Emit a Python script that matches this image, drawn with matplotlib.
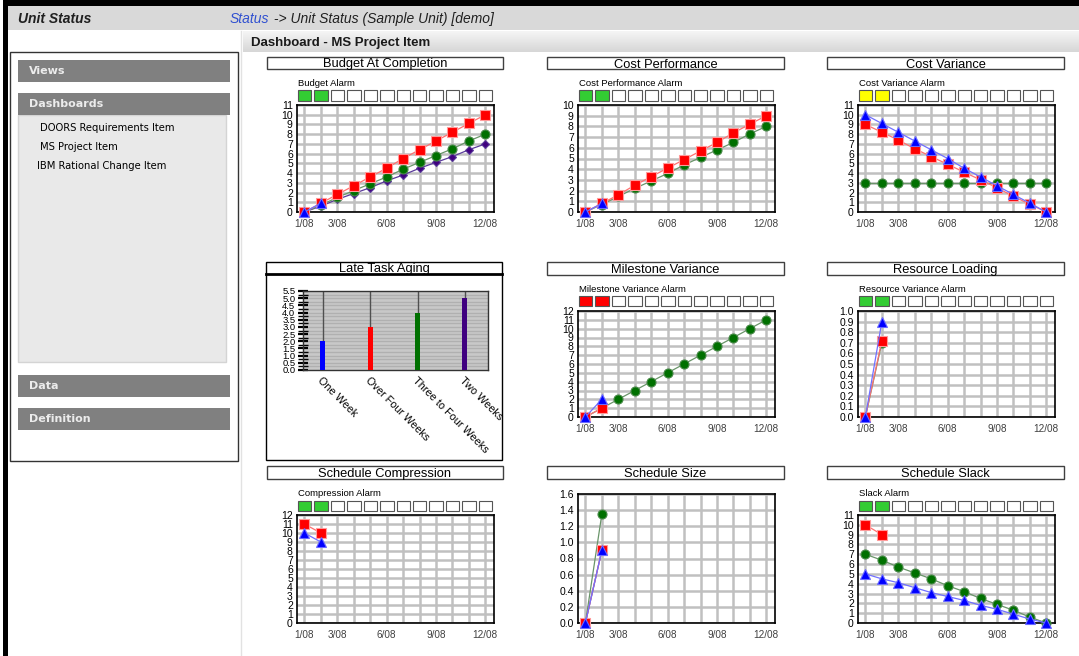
import matplotlib
matplotlib.use('Agg')
import matplotlib.pyplot as plt
from matplotlib.patches import Rectangle
import numpy as np

W, H = 1079, 656
plt.rcParams['font.family'] = ['Liberation Sans', 'DejaVu Sans']

# ---- data ----
months = [1, 2, 3, 4, 5, 6, 7, 8, 9, 10, 11, 12]
month_labels = ['1/08', '', '3/08', '', '', '6/08', '', '', '9/08', '', '', '12/08']

bac_red = [0, 0.9, 1.8, 2.7, 3.6, 4.5, 5.5, 6.4, 7.3, 8.2, 9.1, 10]
bac_green = [0, 0.7, 1.5, 2.2, 2.9, 3.6, 4.4, 5.1, 5.8, 6.5, 7.3, 8]
bac_purple = [0, 0.6, 1.3, 1.9, 2.5, 3.2, 3.8, 4.5, 5.1, 5.7, 6.4, 7]
bac_blue = [0, 0.9]

cp_red = [0, 0.8, 1.6, 2.5, 3.3, 4.1, 4.9, 5.7, 6.5, 7.4, 8.2, 9]
cp_green = [0, 0.7, 1.45, 2.2, 2.9, 3.6, 4.4, 5.1, 5.8, 6.5, 7.3, 8]
cp_blue = [0, 0.8]

cv_green = [3, 3, 3, 3, 3, 3, 3, 3, 3, 3, 3, 3]
cv_red = [9, 8.2, 7.4, 6.5, 5.7, 4.9, 4.1, 3.3, 2.5, 1.6, 0.8, 0]
cv_blue = [10, 9.1, 8.2, 7.3, 6.4, 5.5, 4.5, 3.6, 2.7, 1.8, 0.9, 0]

aging_labels = ['One Week', 'Over Four Weeks', 'Three to Four Weeks', 'Two Weeks']
aging_values = [2, 3, 4, 5]
aging_colors = ['#0000ff', '#ff0000', '#007000', '#40007f']

mv_green = [0, 1, 2, 3, 4, 5, 6, 7, 8, 9, 10, 11]
mv_red = [0, 1]
mv_blue = [0, 2]

rl_green = [0, 0.7]
rl_red = [0, 0.72]
rl_blue = [0, 0.9]

sc_red = [11, 10]
sc_blue = [10, 9]

ss_green = [0, 1.35]
ss_purple = [0, 0.9]
ss_red = [0, 0.9]
ss_blue = [0, 0.9]

sl_green = [7, 6.4, 5.7, 5.1, 4.5, 3.8, 3.2, 2.5, 1.9, 1.3, 0.6, 0]
sl_red = [10, 9]
sl_blue = [5, 4.5, 4.1, 3.6, 3.1, 2.7, 2.3, 1.8, 1.4, 0.9, 0.4, 0]

RED = dict(marker='s', face='#ff0000', edge='#ff9a9a', line='#ff7070', ms=6.5)
GREEN = dict(marker='o', face='#007000', edge='#4a8a4a', line='#6a956a', ms=6.5)
PURPLE = dict(marker='D', face='#40007f', edge='#5a3a9a', line='#5a3a9a', ms=4.5)
BLUE = dict(marker='^', face='#0000ff', edge='#6a6aff', line='#7070ff', ms=6.5)


def fig_rect(x0, y0, x1, y1):
	return [x0 / W, 1 - y1 / H, (x1 - x0) / W, (y1 - y0) / H]


fig = plt.figure(figsize=(W / 100, H / 100), dpi=100)
bg = fig.add_axes([0, 0, 1, 1])
bg.set_xlim(0, W)
bg.set_ylim(H, 0)
bg.axis('off')


def box(x0, y0, x1, y1, face, edge='none', lw=1, z=1):
	bg.add_patch(Rectangle((x0, y0), x1 - x0, y1 - y0, facecolor=face, edgecolor=edge, lw=lw, zorder=z))


# ---- page frame ----
box(3, 0, W, 6, 'black')
box(3, 0, 8, H, 'black')
box(8, 6, W, 30, '#d9d9d9')
bg.text(18, 19, 'Unit Status', fontsize=10, fontweight='bold', style='italic', color='#202020', va='center')
t1 = bg.text(230, 19, 'Status', fontsize=10, style='italic', color='#3050d0', va='center')
fig.canvas.draw()
bb = t1.get_window_extent().transformed(bg.transData.inverted())
bg.text(bb.x1, 19, ' -> Unit Status (Sample Unit) [demo]', fontsize=10, style='italic', color='#202020', va='center')

grad = np.linspace(0.96, 0.84, 50).reshape(-1, 1)
bg.imshow(grad, cmap='gray', vmin=0, vmax=1, extent=(243, W, 52, 31), aspect='auto', zorder=1)
bg.set_xlim(0, W)
bg.set_ylim(H, 0)
bg.text(251, 43, 'Dashboard - MS Project Item', fontsize=9.5, fontweight='bold', color='#1a1a1a', va='center', zorder=2)
bg.plot([241, 241], [31, H], color='#e2e2e2', lw=1)

# ---- left side panel ----
box(10, 52, 238, 461, 'white', '#333333', 1)
for label, y0 in [('Views', 60), ('Dashboards', 93), ('Data', 375), ('Definition', 408)]:
	box(18, y0, 230, y0 + 22, '#808080', z=2)
	bg.text(29, y0 + 11, label, fontsize=8, fontweight='bold', family='DejaVu Sans', color='#ececec', va='center', zorder=3)
box(18, 115, 226, 362, '#e9e9e9', '#d4d4d4', 1)
bg.text(40, 128, 'DOORS Requirements Item', fontsize=7.2, family='DejaVu Sans', va='center', zorder=3)
bg.text(40, 147, 'MS Project Item', fontsize=7.2, family='DejaVu Sans', va='center', zorder=3)
bg.text(37, 166, 'IBM Rational Change Item', fontsize=7.2, family='DejaVu Sans', va='center', zorder=3)


# ---- dashboard charts ----
def title_box(x0, x1, y0, y1, title):
	box(x0, y0, x1, y1, 'white', '#404040', 1, z=2)
	bg.text((x0 + x1) / 2, (y0 + y1) / 2 + 1.5, title, fontsize=9.3, ha='center', va='center', zorder=3)


def alarm_row(x0, x1, y_label, y0, y1, label, colors):
	bg.text(x0 + 1, y_label, label, fontsize=6.8, va='center', zorder=3)
	pitch = (x1 - x0) / 12.0
	for i in range(12):
		c = colors[i] if i < len(colors) else 'white'
		box(x0 + 1 + i * pitch, y0, x0 + i * pitch + pitch - 2, y1, c, '#555555', 0.8, z=2)


def line_chart(rect, ylim, yticks, ylabels, series):
	ax = fig.add_axes(fig_rect(*rect))
	ax.set_xlim(0.55, 12.53)
	ax.set_ylim(*ylim)
	ax.set_xticks(months)
	ax.set_xticklabels(month_labels, color='#404040')
	ax.set_yticks(yticks)
	ax.set_yticklabels(ylabels)
	ax.tick_params(length=0, labelsize=7.5, pad=3)
	ax.tick_params(axis='x', labelsize=7.2, pad=5)
	ax.grid(True, color='#c0c0c0', lw=1.8)
	ax.set_axisbelow(True)
	for s in ax.spines.values():
		s.set_color('black')
		s.set_linewidth(1.2)
	z = 3
	for values, st in series:
		x = months[:len(values)]
		ax.plot(x, values, color=st['line'], lw=0.9, zorder=z)
		ax.plot(x, values, ls='none', marker=st['marker'], mfc=st['face'], mec=st['edge'],
				mew=0.8, ms=st['ms'], zorder=z + 1, clip_on=False)
		z += 2
	return ax


cols = [(267, 503, 297, 494), (547, 784, 578, 775), (827, 1064, 858, 1055)]
rows = [
	dict(title=(57, 69), label=84, boxes=(90, 101), plot=(105, 212)),
	dict(title=(262, 275), label=290, boxes=(296, 306), plot=(311, 417)),
	dict(title=(466, 479), label=494, boxes=(501, 511), plot=(515, 623)),
]


def int_ticks(n):
	return list(range(n + 1)), [str(v) for v in range(n + 1)]


def add_panel(r, c, title, alarm, alarm_colors, ylim, ticks, labels, series, plot_top=None):
	tx0, tx1, px0, px1 = cols[c]
	row = rows[r]
	title_box(tx0, tx1, row['title'][0], row['title'][1], title)
	if alarm:
		alarm_row(px0, px1, row['label'], row['boxes'][0], row['boxes'][1], alarm, alarm_colors)
	top = row['plot'][0] if plot_top is None else plot_top
	line_chart((px0, top, px1, row['plot'][1]), ylim, ticks, labels, series)


GRN = '#33cc33'
t, l = int_ticks(11)
add_panel(0, 0, 'Budget At Completion', 'Budget Alarm', [GRN, GRN], (0, 11), t, l,
		  [(bac_purple, PURPLE), (bac_green, GREEN), (bac_red, RED), (bac_blue, BLUE)])
t, l = int_ticks(10)
add_panel(0, 1, 'Cost Performance', 'Cost Performance Alarm', [GRN, GRN], (0, 10), t, l,
		  [(cp_green, GREEN), (cp_red, RED), (cp_blue, BLUE)])
t, l = int_ticks(11)
add_panel(0, 2, 'Cost Variance', 'Cost Variance Alarm', ['#ffff00', '#ffff00'], (0, 11), t, l,
		  [(cv_green, GREEN), (cv_red, RED), (cv_blue, BLUE)])

t, l = int_ticks(12)
add_panel(1, 1, 'Milestone Variance', 'Milestone Variance Alarm', ['#ff0000', '#ff0000'], (0, 12), t, l,
		  [(mv_green, GREEN), (mv_red, RED), (mv_blue, BLUE)])
rl_ticks = [i / 10 for i in range(11)]
add_panel(1, 2, 'Resource Loading', 'Resource Variance Alarm', [GRN, GRN], (0, 1.0), rl_ticks,
		  ['%.1f' % v for v in rl_ticks], [(rl_green, GREEN), (rl_red, RED), (rl_blue, BLUE)])

t, l = int_ticks(12)
add_panel(2, 0, 'Schedule Compression', 'Compression Alarm', [GRN, GRN], (0, 12), t, l,
		  [(sc_red, RED), (sc_blue, BLUE)])
ss_ticks = [i / 5 for i in range(9)]
add_panel(2, 1, 'Schedule Size', None, None, (0, 1.6), ss_ticks, ['%.1f' % v for v in ss_ticks],
		  [(ss_green, GREEN), (ss_purple, PURPLE), (ss_red, RED), (ss_blue, BLUE)], plot_top=494)
t, l = int_ticks(11)
add_panel(2, 2, 'Schedule Slack', 'Slack Alarm', [GRN, GRN], (0, 11), t, l,
		  [(sl_green, GREEN), (sl_red, RED), (sl_blue, BLUE)])

# ---- late task aging bar chart ----
box(266, 262, 502, 460, 'white', 'black', 1, z=2)
bg.plot([266, 502], [274, 274], color='black', lw=2, zorder=3)
bg.text(384, 269, 'Late Task Aging', fontsize=9.3, ha='center', va='center', zorder=3)

ax = fig.add_axes(fig_rect(303, 291, 488, 370))
ax.set_facecolor('#c8c8c8')
pos = np.arange(len(aging_values))
ax.set_xlim(-0.42, 3.49)
ax.set_ylim(0, 5.5)
for yv in np.arange(0.25, 5.5, 0.25):
	ax.axhline(yv, color='#b0b0b0', lw=1, zorder=1)
ax.vlines(pos, 0, 5.5, color='#505050', lw=1, zorder=2)
ax.bar(pos, aging_values, width=0.11, color=aging_colors, zorder=3)
ax.set_yticks(np.arange(0, 5.51, 0.5))
ax.set_yticklabels(['%.1f' % v for v in np.arange(0, 5.51, 0.5)])
ax.set_yticks(np.arange(0.25, 5.5, 0.5), minor=True)
ax.tick_params(axis='y', which='major', direction='inout', length=7, width=1.6, labelsize=6.8, pad=2)
ax.tick_params(axis='y', which='minor', direction='inout', length=7, width=1)
ax.set_xticks(pos)
ax.set_xticklabels(aging_labels, rotation=-45, ha='left', rotation_mode='anchor', fontsize=7.8)
ax.tick_params(axis='x', length=0, pad=4)
for s in ax.spines.values():
	s.set_color('#333333')
	s.set_linewidth(1)

fig.savefig('out.png', dpi=100)
